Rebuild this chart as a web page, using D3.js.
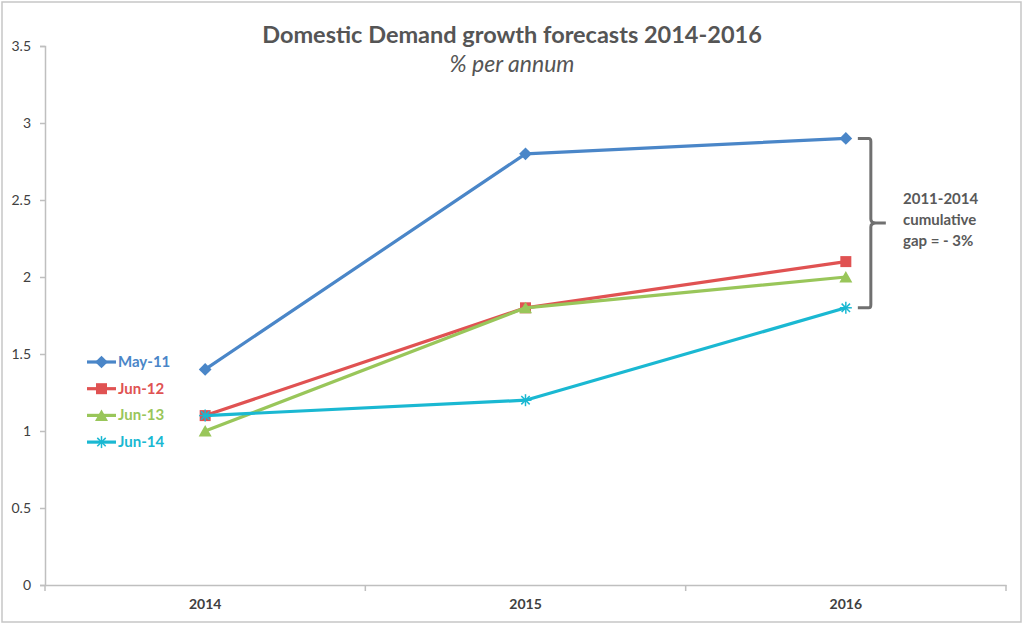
<!DOCTYPE html>
<html><head><meta charset="utf-8">
<script src="https://cdn.jsdelivr.net/npm/d3@7"></script>
<style>body{margin:0;background:#fff}svg{display:block}text{font-family:Lato,"Open Sans",sans-serif}</style>
</head><body>
<svg id="c" width="1023" height="626"></svg>
<script>
const categories = ["2014","2015","2016"];
const seriesNames = ["May-11","Jun-12","Jun-13","Jun-14"];
const may11 = [1.4, 2.8, 2.9];
const jun12 = [1.1, 1.8, 2.1];
const jun13 = [1.0, 1.8, 2.0];
const jun14 = [1.1, 1.2, 1.8];
const yTicks = [0, 0.5, 1, 1.5, 2, 2.5, 3, 3.5];
const colors = ["#4a86c8", "#e05252", "#99c65a", "#1ab8d2"];
const symbols = ["diamond", "square", "triangle", "star"];
const seriesValues = [may11, jun12, jun13, jun14];

const svg = d3.select("#c");
svg.append("rect").attr("x",2).attr("y",2).attr("width",1019).attr("height",620)
  .attr("fill","#fff").attr("stroke","#c6c6c6").attr("stroke-width",1.5);

const L=45, R=1006, T=46, B=585;
const x = d3.scaleBand().domain(categories).range([L,R]);
const y = d3.scaleLinear().domain([0,3.5]).range([B,T]);

// y axis
const yA = svg.append("g").attr("transform",`translate(${L},0)`)
  .call(d3.axisLeft(y).tickValues(yTicks).tickSize(5).tickPadding(9).tickFormat(d=>String(d)));
yA.select(".domain").attr("stroke","#bfbfbf").attr("stroke-width",1.5);
yA.selectAll(".tick line").attr("stroke","#bfbfbf").attr("stroke-width",1.5);
yA.selectAll("text").attr("fill","#404040").style("font-size","14px").style("font-family","Lato,'Open Sans',sans-serif");

// x axis
const xA = svg.append("g").attr("transform",`translate(0,${B})`)
  .call(d3.axisBottom(x).tickSize(0).tickPadding(14));
xA.select(".domain").attr("stroke","#bfbfbf").attr("stroke-width",1.5);
xA.selectAll("text").attr("fill","#404040").style("font-size","14px").style("font-weight","bold").style("font-family","Lato,'Open Sans',sans-serif");
const bounds = categories.map(c=>x(c)).concat([x(categories[categories.length-1])+x.bandwidth()]);
svg.append("g").selectAll("line").data(bounds).join("line")
  .attr("x1",d=>d).attr("x2",d=>d).attr("y1",B).attr("y2",B+6)
  .attr("stroke","#bfbfbf").attr("stroke-width",1.5);

const cx = c => x(c) + x.bandwidth()/2;
const line = d3.line().x((d,i)=>cx(categories[i])).y(d=>y(d));

function drawMarker(g, type, px, py, col){
  if(type==="diamond"){
    g.append("rect").attr("x",-4.5).attr("y",-4.5).attr("width",9).attr("height",9)
      .attr("transform",`translate(${px},${py}) rotate(45)`).attr("fill",col);
  } else if(type==="square"){
    g.append("rect").attr("x",px-5.5).attr("y",py-5.5).attr("width",11).attr("height",11).attr("fill",col);
  } else if(type==="triangle"){
    g.append("path").attr("d",`M${px},${py-6}L${px+6.5},${py+5.5}L${px-6.5},${py+5.5}Z`).attr("fill",col);
  } else {
    const r=6;
    const p = [[-r,0,r,0],[0,-r,0,r],[-r*0.7,-r*0.7,r*0.7,r*0.7],[-r*0.7,r*0.7,r*0.7,-r*0.7]];
    p.forEach(s=>g.append("line").attr("x1",px+s[0]).attr("y1",py+s[1]).attr("x2",px+s[2]).attr("y2",py+s[3]).attr("stroke",col).attr("stroke-width",1.5));
  }
}

seriesValues.forEach((vals,si)=>{
  const g = svg.append("g");
  g.append("path").datum(vals).attr("d",line).attr("fill","none")
    .attr("stroke",colors[si]).attr("stroke-width",3.2).attr("stroke-linejoin","round");
  vals.forEach((v,i)=>drawMarker(g, symbols[si], cx(categories[i]), y(v), colors[si]));
});

// legend
const leg = svg.append("g");
seriesNames.forEach((n,i)=>{
  const ly = 362 + i*26.7;
  leg.append("line").attr("x1",87).attr("x2",116).attr("y1",ly).attr("y2",ly).attr("stroke",colors[i]).attr("stroke-width",3.2);
  drawMarker(leg, symbols[i], 101.5, ly, colors[i]);
  leg.append("text").attr("x",118).attr("y",ly+5).text(n).attr("fill",colors[i])
    .style("font-size","15px").style("font-weight","bold");
});

// title
svg.append("text").attr("x",512).attr("y",43).attr("text-anchor","middle").text("Domestic Demand growth forecasts 2014-2016")
  .attr("fill","#555555").style("font-size","23.5px").style("font-weight","bold");
svg.append("text").attr("x",512).attr("y",72).attr("text-anchor","middle").text("% per annum")
  .attr("fill","#555555").style("font-size","23px").style("font-style","italic");

// bracket annotation
const bx = cx("2016");
const yTop = y(may11[2]), yBot = y(jun14[2]), yMid = (yTop+yBot)/2;
svg.append("path").attr("d",`M${bx+12},${yTop}L${bx+23},${yTop}Q${bx+25},${yTop} ${bx+25},${yTop+3}L${bx+25},${yMid-4}Q${bx+25},${yMid} ${bx+30},${yMid}L${bx+40},${yMid}M${bx+30},${yMid}Q${bx+25},${yMid} ${bx+25},${yMid+4}L${bx+25},${yBot-3}Q${bx+25},${yBot} ${bx+23},${yBot}L${bx+12},${yBot}`)
  .attr("fill","none").attr("stroke","#707070").attr("stroke-width",3);
const ann = ["2011-2014","cumulative","gap = - 3%"];
ann.forEach((t,i)=>svg.append("text").attr("x",903).attr("y",yMid-19+i*21).text(t)
  .attr("fill","#595959").style("font-size","15px").style("font-weight","bold"));
</script>
</body></html>
